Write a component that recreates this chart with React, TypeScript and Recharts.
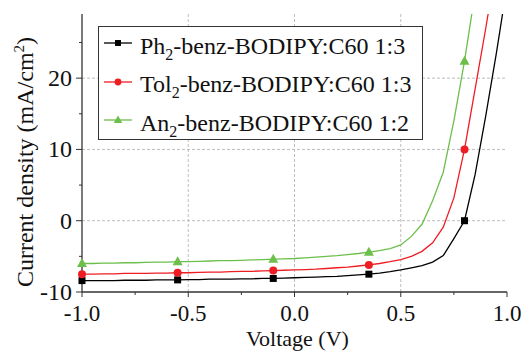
import React from "react";
import {
  ComposedChart,
  Line,
  Scatter,
  XAxis,
  YAxis,
  ReferenceLine,
  Legend,
  Label,
} from "recharts";

// voltage steps (V)
const voltage = [
  -1.0, -0.95, -0.9, -0.85, -0.8, -0.75, -0.7, -0.65, -0.6, -0.55,
  -0.5, -0.45, -0.4, -0.35, -0.3, -0.25, -0.2, -0.15, -0.1,
  -0.05, 0.0, 0.05, 0.1, 0.15, 0.2, 0.25, 0.3, 0.35,
  0.4, 0.45, 0.5, 0.55, 0.6, 0.65, 0.7, 0.75, 0.8, 0.85, 0.9, 0.95, 1.0,
];

// current density (mA/cm2)
const ph2 = [
  -8.4, -8.4, -8.4, -8.4, -8.35, -8.35, -8.35, -8.3, -8.3, -8.3,
  -8.25, -8.25, -8.2, -8.2, -8.2, -8.15, -8.15, -8.1, -8.1,
  -8.05, -8.0, -7.95, -7.9, -7.85, -7.8, -7.7, -7.6, -7.5,
  -7.35, -7.15, -6.9, -6.6, -6.3, -5.8, -4.9, -2.5, 0, 6.5, 14.7, 23.5, 33,
];
const tol2 = [
  -7.5, -7.5, -7.45, -7.45, -7.4, -7.4, -7.4, -7.35, -7.35, -7.3,
  -7.3, -7.25, -7.2, -7.2, -7.15, -7.1, -7.1, -7.05, -7.0,
  -6.95, -6.9, -6.85, -6.8, -6.7, -6.6, -6.5, -6.35, -6.2,
  -6.0, -5.75, -5.45, -5.0, -4.3, -3.1, -0.9, 3.2, 10, 18.5, 27, 36, null,
];
const an2 = [
  -6.0, -6.0, -5.95, -5.95, -5.9, -5.9, -5.85, -5.8, -5.8, -5.75,
  -5.75, -5.7, -5.65, -5.6, -5.6, -5.55, -5.5, -5.45, -5.4,
  -5.35, -5.3, -5.2, -5.1, -5.0, -4.9, -4.75, -4.6, -4.4,
  -4.2, -3.9, -3.4, -2.2, -0.5, 2.8, 6.8, 14.0, 22.4, 32, null, null, null,
];

// points that carry a symbol
const markerIdx = [0, 9, 18, 27, 36];

const xTicks = [-1.0, -0.75, -0.5, -0.25, 0, 0.25, 0.5, 0.75, 1.0];
const xMajor = [-1.0, -0.5, 0, 0.5, 1.0];
const yTicks = [-10, -5, 0, 5, 10, 15, 20, 25];
const yMajor = [-10, 0, 10, 20];

const seriesInfo = [
  { key: "ph2", values: ph2, color: "#000000", shape: "square", name: "Ph", suffix: "-benz-BODIPY:C60 1:3" },
  { key: "tol2", values: tol2, color: "#ee1d23", shape: "circle", name: "Tol", suffix: "-benz-BODIPY:C60 1:3" },
  { key: "an2", values: an2, color: "#6cbf4a", shape: "triangle", name: "An", suffix: "-benz-BODIPY:C60 1:2" },
];

const chartData = voltage.map((v, i) => ({
  v,
  ph2: ph2[i],
  tol2: tol2[i],
  an2: an2[i],
}));

const axisColor = "#333333";
const gridColor = "#bdbdbd";
const font = "Liberation Serif, Tinos, Times New Roman, Times, DejaVu Serif, serif";

const isIn = (list: number[], v: number) => list.some((m) => Math.abs(m - v) < 1e-6);

function Marker({ shape, color, cx, cy, size = 1 }: any) {
  if (cx == null || cy == null) return null;
  if (shape === "square") {
    const s = 7 * size;
    return <rect x={cx - s / 2} y={cy - s / 2} width={s} height={s} fill={color} />;
  }
  if (shape === "circle") {
    return <circle cx={cx} cy={cy} r={4 * size} fill={color} />;
  }
  const h = 9 * size;
  const w = 10 * size;
  return (
    <polygon
      points={`${cx},${cy - h * 0.6} ${cx - w / 2},${cy + h * 0.4} ${cx + w / 2},${cy + h * 0.4}`}
      fill={color}
    />
  );
}

const BottomTick = (props: any) => {
  const { x, y, payload } = props;
  const major = isIn(xMajor, payload.value);
  return (
    <g>
      <line x1={x} x2={x} y1={y} y2={y + (major ? 5 : 3)} stroke={axisColor} />
      {major && (
        <text x={x} y={y + 29} textAnchor="middle" style={{ fontFamily: font }} fontSize={23} fill="#111">
          {payload.value.toFixed(1)}
        </text>
      )}
    </g>
  );
};

const TopTick = (props: any) => {
  const { x, y, payload } = props;
  const major = isIn(xMajor, payload.value);
  return <line x1={x} x2={x} y1={y} y2={y + (major ? 5 : 3)} stroke={axisColor} />;
};

const LeftTick = (props: any) => {
  const { x, y, payload } = props;
  const major = isIn(yMajor, payload.value);
  return (
    <g>
      <line x1={x - (major ? 6 : 3)} x2={x} y1={y} y2={y} stroke={axisColor} />
      {major && (
        <text x={x - 10} y={y + 8} textAnchor="end" style={{ fontFamily: font }} fontSize={24} fill="#111">
          {payload.value}
        </text>
      )}
    </g>
  );
};

const RightTick = (props: any) => {
  const { x, y, payload } = props;
  const major = isIn(yMajor, payload.value);
  return <line x1={x - (major ? 5 : 3)} x2={x} y1={y} y2={y} stroke={axisColor} />;
};

const XTitle = (props: any) => {
  const { viewBox } = props;
  return (
    <text x={viewBox.x + viewBox.width / 2 + 3} y={viewBox.y + 54} textAnchor="middle" style={{ fontFamily: font }} fontSize={22} fill="#111">
      Voltage (V)
    </text>
  );
};

const YTitle = (props: any) => {
  const { viewBox } = props;
  const cx = 33;
  const cy = viewBox.y + viewBox.height / 2 + 9;
  return (
    <text x={cx} y={cy} transform={`rotate(-90, ${cx}, ${cy})`} textAnchor="middle" style={{ fontFamily: font }} fontSize={24} fill="#111">
      Current density (mA/cm<tspan dy={-9} fontSize={15}>2</tspan>
      <tspan dy={9}>)</tspan>
    </text>
  );
};

const LegendBox = () => (
  <div
    style={{
      position: "relative",
      width: 325,
      height: 114,
      border: `1.5px solid ${axisColor}`,
      boxSizing: "border-box",
      background: "#fff",
      fontFamily: font,
      fontSize: 24,
      color: "#111",
    }}
  >
    {seriesInfo.map((s, i) => (
      <div
        key={s.key}
        style={{
          position: "absolute",
          left: 5,
          top: 16 + i * 38.5 - 19,
          height: 38,
          display: "flex",
          alignItems: "center",
          whiteSpace: "nowrap",
        }}
      >
        <svg width={30} height={20} style={{ marginRight: 6 }}>
          <line x1={0} x2={28} y1={10} y2={10} stroke={s.color} strokeWidth={1.3} />
          <Marker shape={s.shape} color={s.color} cx={14} cy={10} size={0.85} />
        </svg>
        <span style={{ position: "relative", top: 3 }}>
          {s.name}
          <span style={{ fontSize: 16, position: "relative", top: 6 }}>2</span>
          {s.suffix}
        </span>
      </div>
    ))}
  </div>
);

export default function App() {
  return (
    <div style={{ position: "absolute", left: 0, top: 0, width: 522, height: 351, background: "#fff", fontFamily: font }}>
      <ComposedChart
        width={522}
        height={351}
        data={chartData}
        margin={{ top: 14, right: 15, bottom: 29, left: 22 }}
      >
        <XAxis
          type="number"
          dataKey="v"
          domain={[-1, 1]}
          ticks={xTicks}
          interval={0}
          tickSize={0}
          tickMargin={0}
          tickLine={false}
          tick={<BottomTick />}
          height={30}
          axisLine={{ stroke: axisColor, strokeWidth: 1.3 }}
        >
          <Label content={<XTitle />} />
        </XAxis>
        <XAxis
          xAxisId="top"
          orientation="top"
          type="number"
          dataKey="v"
          domain={[-1, 1]}
          ticks={xTicks}
          interval={0}
          tickSize={0}
          tickMargin={0}
          tickLine={false}
          tick={<TopTick />}
          height={0}
          axisLine={{ stroke: axisColor, strokeWidth: 1.3 }}
        />
        <YAxis
          type="number"
          domain={[-10, 29]}
          allowDataOverflow
          ticks={yTicks}
          interval={0}
          tickSize={0}
          tickMargin={0}
          tickLine={false}
          tick={<LeftTick />}
          width={60}
          axisLine={{ stroke: axisColor, strokeWidth: 1.3 }}
        >
          <Label content={<YTitle />} />
        </YAxis>
        <YAxis
          yAxisId="right"
          orientation="right"
          type="number"
          dataKey="j"
          domain={[-10, 29]}
          ticks={yTicks}
          interval={0}
          tickSize={0}
          tickMargin={0}
          tickLine={false}
          tick={<RightTick />}
          width={0}
          axisLine={{ stroke: axisColor, strokeWidth: 1.3 }}
        />

        {[-0.5, 0, 0.5].map((v) => (
          <ReferenceLine key={`vx${v}`} x={v} stroke={gridColor} strokeDasharray="3 2" />
        ))}
        {[0, 10, 20].map((v) => (
          <ReferenceLine key={`hy${v}`} y={v} stroke={gridColor} strokeDasharray="3 2" />
        ))}

        {seriesInfo.map((s) => (
          <Line
            key={s.key}
            type="linear"
            dataKey={s.key}
            stroke={s.color}
            strokeWidth={1.3}
            dot={false}
            activeDot={false}
            isAnimationActive={false}
            legendType="none"
          />
        ))}
        {seriesInfo.map((s) => (
          <Scatter
            key={`${s.key}-m`}
            xAxisId="top"
            yAxisId="right"
            data={markerIdx.map((i) => ({ v: voltage[i], j: s.values[i] }))}
            shape={(p: any) => <Marker shape={s.shape} color={s.color} cx={p.cx} cy={p.cy} />}
            isAnimationActive={false}
            legendType="none"
          />
        ))}

        <Legend
          layout="vertical"
          align="center"
          verticalAlign="middle"
          wrapperStyle={{ left: 98, top: 26, width: "auto" }}
          content={() => <LegendBox />}
        />
      </ComposedChart>
    </div>
  );
}
